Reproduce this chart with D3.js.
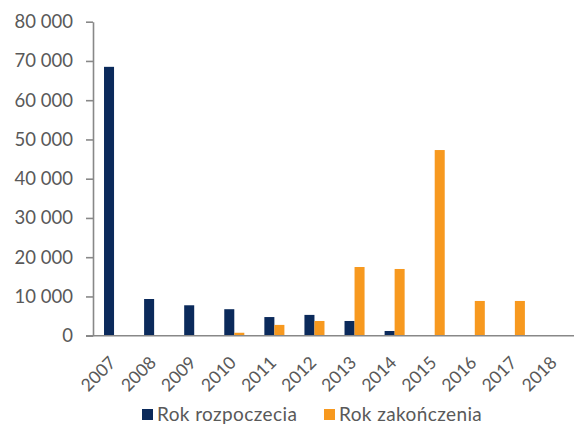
<!DOCTYPE html>
<html>
<head>
<meta charset="utf-8">
<script src="https://cdn.jsdelivr.net/npm/d3@7"></script>
<style>
  html, body { margin: 0; padding: 0; background: #ffffff; }
  svg { display: block; }
  text { font-family: Lato, "Open Sans", sans-serif; fill: #595959; }
</style>
</head>
<body>
<div id="chart"></div>
<script>
// Years on the category axis
const years = ["2007","2008","2009","2010","2011","2012","2013","2014","2015","2016","2017","2018"];
// Series: number by start year and by end year
const seriesNames = ["Rok rozpoczecia", "Rok zakończenia"];
const startValues = [68500, 9350, 7750, 6750, 4750, 5300, 3750, 1200, 100, 0, 0, 0];
const endValues   = [0, 0, 0, 750, 2750, 3750, 17500, 17000, 47300, 8850, 8850, 0];
const seriesColors = ["#0b2a5b", "#f7991f"];
// Value axis ticks
const yTicks = [0, 10000, 20000, 30000, 40000, 50000, 60000, 70000, 80000];

const width = 574, height = 424;
const plot = { left: 93, right: 575, top: 21.7, bottom: 335.7 };

const svg = d3.select("#chart").append("svg")
  .attr("width", width).attr("height", height);

const x = d3.scaleBand().domain(years)
  .range([plot.left + 1, plot.right])
  .paddingInner(0.5).paddingOuter(0.25);
const x1 = d3.scaleBand().domain(seriesNames).range([0, x.bandwidth()]);
const y = d3.scaleLinear().domain([0, 80000]).range([plot.bottom, plot.top]);

const fmt = v => d3.format(",")(v).replace(/,/g, " ");

// Value axis
const yAxis = svg.append("g")
  .attr("transform", `translate(${plot.left},0)`)
  .call(d3.axisLeft(y).tickValues(yTicks).tickFormat(fmt).tickSize(7).tickPadding(13).tickSizeOuter(0));
yAxis.select(".domain").attr("stroke", "#888888").attr("stroke-width", 1.6);
yAxis.selectAll(".tick line").attr("stroke", "#888888").attr("stroke-width", 1.6);
yAxis.selectAll(".tick text").attr("font-size", 18.5).attr("fill", "#595959")
  .style("font-family", "Lato, sans-serif");

// Bars
const rows = years.map((yr, i) => ({ year: yr, values: [startValues[i], endValues[i]] }));
const groups = svg.append("g").selectAll("g").data(rows).join("g")
  .attr("transform", d => `translate(${x(d.year)},0)`);
groups.selectAll("rect")
  .data(d => d.values.map((v, k) => ({ key: seriesNames[k], value: v, k })))
  .join("rect")
  .attr("x", d => x1(d.key))
  .attr("width", x1.bandwidth())
  .attr("y", d => y(d.value))
  .attr("height", d => plot.bottom - y(d.value))
  .attr("fill", d => seriesColors[d.k]);

// Category axis
const xAxis = svg.append("g")
  .attr("transform", `translate(0,${plot.bottom})`)
  .call(d3.axisBottom(x).tickSize(0).tickPadding(0));
xAxis.select(".domain").remove();
svg.append("line")
  .attr("x1", plot.left - 7).attr("x2", width)
  .attr("y1", plot.bottom).attr("y2", plot.bottom)
  .attr("stroke", "#888888").attr("stroke-width", 1.6);
xAxis.selectAll(".tick text")
  .attr("font-size", 17.5).attr("fill", "#595959")
  .style("font-family", "Lato, sans-serif")
  .attr("text-anchor", "end")
  .attr("dy", 0)
  .attr("transform", "translate(3,28) rotate(-45)");

// Legend
const legendItems = [
  { name: seriesNames[0], color: seriesColors[0], x: 142 },
  { name: seriesNames[1], color: seriesColors[1], x: 324 }
];
const legend = svg.append("g").selectAll("g").data(legendItems).join("g")
  .attr("transform", d => `translate(${d.x},409)`);
legend.append("rect").attr("width", 11).attr("height", 11).attr("fill", d => d.color);
legend.append("text").attr("x", 15).attr("y", 11.5)
  .attr("font-size", 19).attr("letter-spacing", 0.4).text(d => d.name);
</script>
</body>
</html>
